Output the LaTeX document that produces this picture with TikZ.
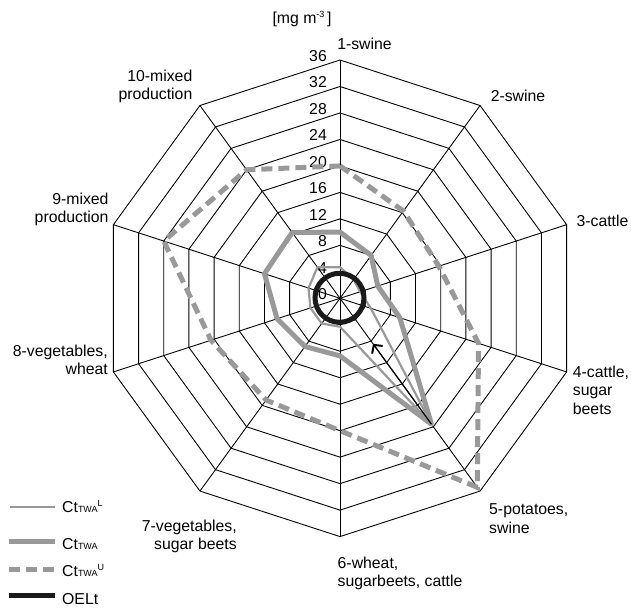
\documentclass[tikz,border=0pt]{standalone}
\usepackage{fontspec}
\setmainfont{Liberation Sans}
\usetikzlibrary{arrows.meta}
\definecolor{sergrey}{RGB}{153,153,153}
\definecolor{oelblack}{RGB}{26,26,26}
\newcommand{\labfont}{\fontsize{15.8}{18.5}\selectfont}
\newcommand{\tinyfont}{\fontsize{9}{9}\selectfont}
\newcommand{\cttwa}[1]{Ct{\tinyfont TWA}\raisebox{6.5pt}{\tinyfont #1}}
\tikzset{
  gridline/.style={draw=black, line width=0.9pt},
  ticklab/.style={inner sep=0pt, font=\labfont},
  axlab/.style={inner sep=0pt, font=\labfont},
  seriesL/.style={draw=sergrey, line width=2.2pt, line join=round},
  seriesT/.style={draw=sergrey, line width=5pt, line join=round},
  seriesU/.style={draw=sergrey, line width=5pt, dash pattern=on 11pt off 6pt, line join=miter},
  oel/.style={draw=oelblack, line width=5pt},
  arrowline/.style={draw=black, line width=1.2pt, -{Straight Barb[length=6pt,width=13pt,line width=2pt]}},
}
\begin{document}
\begin{tikzpicture}[x=1pt,y=-1pt]
\useasboundingbox (0,0) rectangle (631,610);
\def\cx{340}
\def\cy{298.3}
\def\s{6.619}
\coordinate (C) at (\cx,\cy);
% rings
\foreach \r in {4,8,...,36}
  \draw[gridline] ({\cx+\s*\r*cos(90)},{\cy-\s*\r*sin(90)})
    \foreach \k in {1,...,9} { -- ({\cx+\s*\r*cos(90-36*\k)},{\cy-\s*\r*sin(90-36*\k)}) } -- cycle;
% spokes
\foreach \k in {1,...,10} {
  \coordinate (O\k) at ({\cx+\s*36*cos(126-36*\k)},{\cy-\s*36*sin(126-36*\k)});
  \draw[gridline] (C) -- (O\k);
}
% tick labels
\foreach \v in {0,4,...,36}
  \node[ticklab, anchor=east] (t\v) at (327,{\cy-\s*\v-4}) {\v};
% unit
\node[axlab] (unit) at (302,19) {[mg m\raisebox{6pt}{\tinyfont -3}\,]};
% axis labels
\node[axlab] (a1) at (364.5,44) {1-swine};
\node[axlab] (a2) at (518,95.5) {2-swine};
\node[axlab] (a3) at (602.5,221) {3-cattle};
\node[axlab, anchor=north west, align=left] (a4) at (572.7,365.5) {4-cattle,\\sugar\\beets};
\node[axlab, anchor=north west, align=left] (a5) at (489,503.5) {5-potatoes,\\swine};
\node[axlab, anchor=north west, align=left] (a6) at (337.5,556.5) {6-wheat,\\sugarbeets, cattle};
\node[axlab, anchor=north east, align=right] (a7) at (237,519.5) {7-vegetables,\\sugar beets};
\node[axlab, anchor=north east, align=right] (a8) at (108,344.5) {8-vegetables,\\wheat};
\node[axlab, anchor=north east, align=right] (a9) at (108.7,192.5) {9-mixed\\production};
\node[axlab, anchor=north east, align=right] (a10) at (192.5,69.5) {10-mixed\\production};
% series coordinates
\foreach \v [count=\k] in {20,16.3,15.7,22,35.3,20,19,20.5,28,24}
  \coordinate (U\k) at ({\cx+\s*\v*cos(126-36*\k)},{\cy-\s*\v*sin(126-36*\k)});
\foreach \v [count=\k] in {10,8,6,9.5,23.5,8.7,9,10,12,12.3}
  \coordinate (T\k) at ({\cx+\s*\v*cos(126-36*\k)},{\cy-\s*\v*sin(126-36*\k)});
\foreach \v [count=\k] in {4.7,3.5,3.2,4.9,23.5,4.3,4.7,4.7,5.0,5.8}
  \coordinate (L\k) at ({\cx+\s*\v*cos(126-36*\k)},{\cy-\s*\v*sin(126-36*\k)});
\draw[seriesU] (U1) -- (U2) -- (U3) -- (U4) -- (U5) -- (U6) -- (U7) -- (U8) -- (U9) -- (U10) -- cycle;
\draw[seriesT] (T1) -- (T2) -- (T3) -- (T4) -- (T5) -- (T6) -- (T7) -- (T8) -- (T9) -- (T10) -- cycle;
\draw[seriesL] (L1) -- (L2) -- (L3) -- (L4) -- (L5) -- (L6) -- (L7) -- (L8) -- (L9) -- (L10) -- cycle;
% OELt
\coordinate (OC) at (339.5,297.8);
\draw[oel] (OC) circle[radius=24.5];
% arrow
\coordinate (AH) at ({\cx+\s*8.5*cos(-54)},{\cy-\s*8.5*sin(-54)});
\draw[arrowline] (T5) -- (AH);
% legend
\coordinate (g1a) at (10,507.3); \coordinate (g1b) at (55,507.3);
\coordinate (g2a) at (9,541.7);  \coordinate (g2b) at (55,541.7);
\coordinate (g3a) at (9,569);    \coordinate (g3b) at (55,569);
\coordinate (g4a) at (9,595.7);  \coordinate (g4b) at (55,595.7);
\draw[seriesL, line cap=butt] (g1a) -- (g1b);
\draw[seriesT] (g2a) -- (g2b);
\draw[seriesU] (g3a) -- (g3b);
\draw[oel] (g4a) -- (g4b);
\node[axlab, anchor=base west] (k1) at (62,512.7) {\cttwa{L}};
\node[axlab, anchor=base west] (k2) at (62,549.3) {\cttwa{}};
\node[axlab, anchor=base west] (k3) at (62,576.7) {\cttwa{U}};
\node[axlab, anchor=base west] (k4) at (62,604) {OELt};
\end{tikzpicture}
\end{document}
